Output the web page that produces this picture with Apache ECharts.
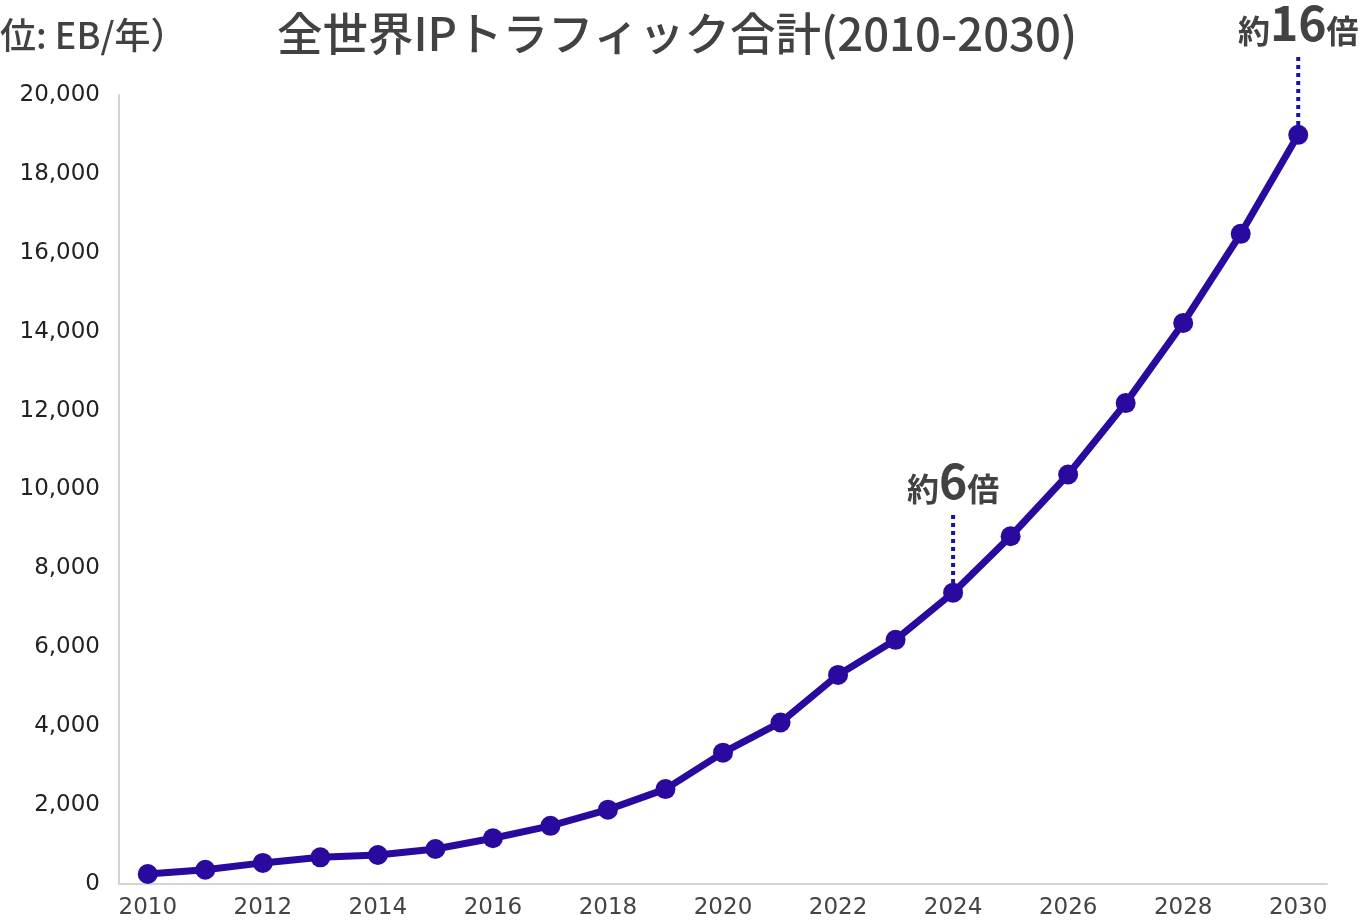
<!DOCTYPE html>
<html>
<head>
<meta charset="utf-8">
<script src="https://cdn.jsdelivr.net/npm/echarts@6/dist/echarts.min.js"></script>
<style>
html,body{margin:0;padding:0;background:#fff;}
#main{width:1363px;height:920px;}
</style>
</head>
<body>
<div id="main"></div>
<script>
const years = ['2010','2011','2012','2013','2014','2015','2016','2017','2018','2019','2020','2021','2022','2023','2024','2025','2026','2027','2028','2029','2030'];
const traffic = [253, 360, 535, 676, 734, 886, 1160, 1475, 1885, 2405, 3330, 4095, 5300, 6190, 7385, 8815, 10380, 12190, 14220, 16480, 18990];
const annoYears = ['2024', '2030'];
const annoPrefix = ['約', '約'];
const annoNums = ['6', '16'];
const annoSuffix = ['倍', '倍'];
const chartTitle = '全世界IPトラフィック合計(2010-2030)';
const unitLabel = '（単位: EB/年）';

const cjk = '"Noto Sans CJK JP", "Noto Sans", sans-serif';
const latin = 'DejaVu Sans';
const lineColor = '#2a0a9e';
const dotColor = '#1a10b0';
const textColor = '#424242';

const chart = echarts.init(document.getElementById('main'));
chart.setOption({
  animation: false,
  backgroundColor: '#ffffff',
  grid: { left: 119, right: 36, top: 95, bottom: 35, containLabel: false },
  xAxis: {
    type: 'category',
    data: years,
    boundaryGap: true,
    axisLine: { show: true, lineStyle: { color: '#d4d4d4', width: 2 } },
    axisTick: { show: false },
    axisLabel: {
      interval: 1,
      margin: 13,
      color: '#444444',
      fontSize: 23,
      fontFamily: latin
    },
    splitLine: { show: false }
  },
  yAxis: {
    type: 'value',
    min: 0,
    max: 20000,
    interval: 2000,
    axisLine: { show: true, lineStyle: { color: '#d4d4d4', width: 2 } },
    axisTick: { show: false },
    splitLine: { show: false },
    axisLabel: {
      margin: 19,
      color: '#222222',
      fontSize: 23,
      fontFamily: latin,
      formatter: v => v.toLocaleString('en-US')
    }
  },
  series: [{
    type: 'line',
    data: traffic,
    smooth: false,
    symbol: 'circle',
    symbolSize: 20,
    lineStyle: { color: lineColor, width: 7, join: 'round', cap: 'round' },
    itemStyle: { color: lineColor },
    z: 3
  }]
});

const graphics = [
  {
    type: 'text',
    x: 277,
    y: 34,
    style: {
      text: chartTitle,
      font: '500 45.5px ' + cjk,
      fill: textColor,
      verticalAlign: 'middle'
    }
  },
  {
    type: 'text',
    x: -72,
    y: 35,
    style: {
      text: unitLabel,
      font: '500 36px ' + cjk,
      fill: textColor,
      verticalAlign: 'middle',
      align: 'left'
    }
  }
];

const tipTops = [515, 57];
annoYears.forEach((yr, i) => {
  const idx = years.indexOf(yr);
  const p = chart.convertToPixel({ gridIndex: 0 }, [idx, traffic[idx]]);
  const topY = tipTops[i];
  graphics.push({
    type: 'line',
    shape: { x1: p[0], y1: topY, x2: p[0], y2: p[1] },
    style: { stroke: dotColor, lineWidth: 4, lineDash: [4, 4] },
    z: 10
  });
  graphics.push({
    type: 'text',
    x: p[0],
    y: topY - 10,
    style: {
      text: '{a|' + annoPrefix[i] + '}{b|' + annoNums[i] + '}{a|' + annoSuffix[i] + '}',
      align: 'center',
      verticalAlign: 'bottom',
      rich: {
        a: { fontSize: 32, fontFamily: cjk, fontWeight: 'bold', fill: textColor, verticalAlign: 'bottom', lineHeight: 48 },
        b: { fontSize: 48, fontFamily: cjk, fontWeight: 'bold', fill: textColor, verticalAlign: 'bottom', lineHeight: 48 }
      }
    },
    z: 10
  });
});

chart.setOption({ graphic: graphics });
</script>
</body>
</html>
